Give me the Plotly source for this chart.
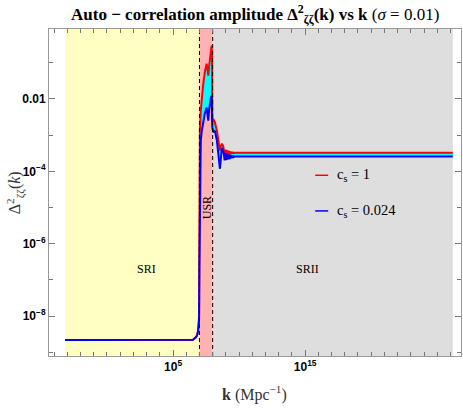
import plotly.graph_objects as go

# ---- data (log10 values) ----
red_logk = [-3.17, 0, 3, 5, 6, 6.5, 6.8, 6.9, 6.97, 7.0, 7.03, 7.1, 7.18, 7.26, 7.4, 7.54, 7.6, 7.67,
            7.73, 7.79, 7.86, 7.92, 7.95, 7.97, 8.05, 8.17, 8.32, 8.47, 8.55, 8.62, 8.7,
            8.8, 8.85, 8.9, 8.95, 9.0, 9.05, 9.1, 9.15, 9.2, 9.25, 9.3, 9.35, 9.4, 9.45, 9.5, 9.55, 9.6,
            9.7, 12, 16, 20, 26.18]
red_logP = [-8.66, -8.66, -8.66, -8.66, -8.66, -8.66, -8.55, -8.4, -8.0, -6.0, -2.88, -2.32, -1.95, -1.68, -1.27, -1.03, -1.15, -1.36,
            -1.1, -0.85, -0.65, -0.53, -0.8, -2.6, -2.55, -2.65, -2.88, -3.2, -3.43, -3.3, -3.24,
            -3.3, -3.40, -3.56, -3.40, -3.56, -3.41, -3.55, -3.43, -3.54, -3.44, -3.53, -3.45, -3.52, -3.46, -3.51, -3.47, -3.50,
            -3.49, -3.49, -3.49, -3.49, -3.49]

blue_logk = [-3.17, 0, 3, 5, 6, 6.5, 6.72, 6.84, 6.91, 6.97, 7.0, 7.03, 7.1, 7.18, 7.26, 7.4, 7.54, 7.6, 7.67,
             7.73, 7.79, 7.86, 7.92, 7.95, 7.97, 8.05, 8.17, 8.32, 8.47, 8.55, 8.62, 8.7,
             8.8, 8.85, 8.9, 8.95, 9.0, 9.05, 9.1, 9.15, 9.2, 9.25, 9.3, 9.35, 9.4, 9.45, 9.5, 9.55, 9.6,
             9.7, 12, 16, 20, 26.18]
blue_logP = [-8.66, -8.66, -8.66, -8.66, -8.66, -8.65, -8.59, -8.51, -8.37, -8.12, -6.5, -4.2, -3.15, -2.88, -2.68, -2.41, -2.24, -2.4, -2.6,
             -2.3, -2.09, -1.98, -1.91, -2.2, -2.78, -2.92, -2.88, -3.15, -3.61, -3.93, -3.65, -3.35,
             -3.45, -3.52, -3.70, -3.50, -3.69, -3.52, -3.68, -3.53, -3.67, -3.54, -3.66, -3.55, -3.64, -3.56, -3.63, -3.57, -3.61,
             -3.59, -3.59, -3.59, -3.59, -3.59]

regions = [("SRI", -3.17, 7.0, "rgb(255,255,196)"),
           ("USR", 7.0, 8.0, "rgb(255,178,178)"),
           ("SRII", 8.0, 26.18, "rgb(222,222,222)")]

x_range = [-4.39, 26.8]
y_range = [-9.1, -0.07]

x_minor_exps = list(range(-4, 27))
x_label_exps = [5, 15]
y_minor_exps = list(range(-9, 0))
y_label_exps = [-2, -4, -6, -8]
y_label_text = ["0.01", "10<sup>−4</sup>", "10<sup>−6</sup>", "10<sup>−8</sup>"]

def p10(v):
    return 10.0 ** float(v)

fig = go.Figure()

# shaded regions
for name, a, b, col in regions:
    fig.add_trace(go.Scatter(
        x=[p10(a), p10(b), p10(b), p10(a), p10(a)],
        y=[p10(y_range[0]), p10(y_range[0]), p10(y_range[1]), p10(y_range[1]), p10(y_range[0])],
        fill="toself", fillcolor=col, mode="none", showlegend=False, hoverinfo="skip"))

red_k = [p10(v) for v in red_logk]
red_P = [p10(v) for v in red_logP]
blue_k = [p10(v) for v in blue_logk]
blue_P = [p10(v) for v in blue_logP]

fig.add_trace(go.Scatter(x=red_k, y=red_P, mode="lines", line=dict(color="red", width=2),
                         name="c_s = 1", showlegend=False))
fig.add_trace(go.Scatter(x=blue_k, y=blue_P, mode="lines", line=dict(color="blue", width=2),
                         fill="tonexty", fillcolor="cyan", name="c_s = 0.024", showlegend=False))

# dashed boundaries
for e in [7.0, 8.0]:
    fig.add_trace(go.Scatter(x=[p10(e), p10(e)], y=[p10(y_range[0]), p10(y_range[1])], mode="lines",
                             line=dict(color="black", width=1, dash="4px,3px"), showlegend=False, hoverinfo="skip"))

serif = "Liberation Serif"
ann = []
def A(**kw):
    kw.setdefault("showarrow", False)
    kw.setdefault("xanchor", "center")
    kw.setdefault("yanchor", "middle")
    ann.append(kw)

A(x=3.0, y=-6.69, xref="x", yref="y", text="SRI", font=dict(family=serif, size=12, color="black"))
A(x=15.2, y=-6.69, xref="x", yref="y", text="SRII", font=dict(family=serif, size=12, color="black"))
A(x=7.55, y=-5.0, xref="x", yref="y", text="USR", textangle=-90, font=dict(family=serif, size=12, color="black"))

W0, W1, H0, H1 = 49, 460.7, 28.5, 356
def px(x):
    return (x - W0) / (W1 - W0)
def py(y):
    return (H1 - y) / (H1 - H0)

# legend
shapes = []
for yy, col, txt in [(175, "red", "c<sub>s</sub> = 1"), (210.7, "blue", "c<sub>s</sub> = 0.024")]:
    shapes.append(dict(type="line", xref="paper", yref="paper", x0=px(315), x1=px(328), y0=py(yy), y1=py(yy),
                       line=dict(color=col, width=1.5)))
    A(x=px(335), y=py(yy), xref="paper", yref="paper", text=txt, xanchor="left",
      font=dict(family=serif, size=14.5, color="black"))

# axis titles
A(x=px(15), y=py(192), xref="paper", yref="paper", textangle=-90,
  text="Δ<sup>2</sup><sub>ζζ</sub>(<i>k</i>)", font=dict(family=serif, size=16, color="#333"))
A(x=px(254), y=py(394), xref="paper", yref="paper",
  text="<b>k</b> (Mpc<sup>−1</sup>)", font=dict(family=serif, size=16, color="#333"))
A(x=px(255), y=py(14), xref="paper", yref="paper",
  text="<b>Auto − correlation amplitude Δ<sup>2</sup><sub>ζζ</sub>(k) vs k</b> (<i>σ</i> = 0.01)",
  font=dict(family=serif, size=17, color="black"))

axis_common = dict(type="log", showgrid=False, zeroline=False, showline=True, linecolor="#999",
                   linewidth=1, mirror="allticks", ticks="inside", ticklen=6, tickcolor="#777",
                   automargin=False,
                   tickfont=dict(family="Liberation Sans", size=12, color="black", weight="bold"))

fig.update_layout(
    width=463, height=409,
    margin=dict(l=W0, r=463 - W1, t=H0, b=409 - H1, autoexpand=False),
    paper_bgcolor="white", plot_bgcolor="white",
    showlegend=False,
    xaxis=dict(range=x_range, tickmode="array", tickvals=[p10(e) for e in x_label_exps],
               ticktext=["10<sup>%d</sup>" % e for e in x_label_exps],
               minor=dict(tickmode="array", tickvals=[p10(e) for e in x_minor_exps], ticks="inside",
                          ticklen=4, tickcolor="#777", showgrid=False),
               **axis_common),
    yaxis=dict(range=y_range, tickmode="array", tickvals=[p10(e) for e in y_label_exps],
               ticktext=y_label_text,
               minor=dict(tickmode="array", tickvals=[p10(e) for e in y_minor_exps], ticks="inside",
                          ticklen=4, tickcolor="#777", showgrid=False),
               **axis_common),
    annotations=ann, shapes=shapes,
)

fig.write_html("out.html", config={"displayModeBar": False},
               post_script="document.body.style.margin='0px';document.body.style.overflow='hidden';")
